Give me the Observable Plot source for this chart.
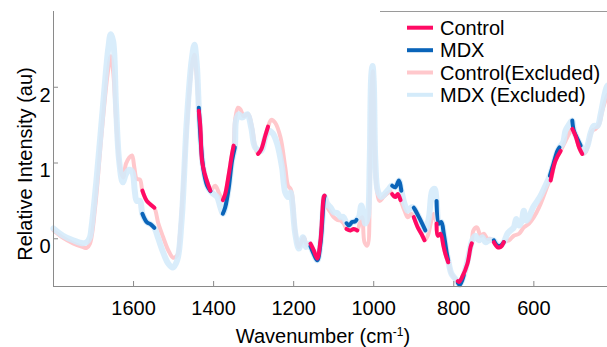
<!DOCTYPE html>
<html><head><meta charset="utf-8">
<script src="https://cdn.jsdelivr.net/npm/d3@7"></script>
<script src="https://cdn.jsdelivr.net/npm/@observablehq/plot@0.6"></script>
<style>
body{margin:0;background:#fff;}
#wrap{position:relative;width:607px;height:347px;font-family:"Liberation Sans",Arial,sans-serif;}
#overlay{position:absolute;left:0;top:0;pointer-events:none;}
</style></head><body><div id="wrap"></div>
<script>
// ---- data (wavenumber cm^-1, relative intensity au) ----
const controlWn = [1800,1776,1751,1726,1717,1709,1696,1680,1665,1657,1651,1642,1634,1626,1619,1611,1604,1598,1592,1584,1578,1567,1557,1548,1538,1526,1513,1501,1491,1484,1471,1455,1448,1443,1437,1433,1429,1422,1414,1408,1396,1387,1377,1371,1362,1354,1350,1346,1339,1333,1325,1314,1304,1296,1289,1281,1271,1264,1256,1246,1233,1221,1214,1208,1204,1196,1187,1175,1166,1158,1150,1141,1133,1125,1123,1116,1108,1100,1091,1083,1075,1068,1058,1050,1041,1033,1029,1023,1016,1010,1006,1002,998,993,985,976,966,958,954,946,940,933,923,915,906,900,890,881,873,865,856,850,843,840,833,826,821,814,806,796,790,787,779,766,758,755,751,742,733,725,716,708,700,691,683,675,662,650,637,625,612,600,587,575,562,558,546,533,521,508,504,496,487,479,471,462,454,446,437,429,419,416];
const controlVal = [0.11,0.013,-0.06,-0.11,-0.12,-0.065,0.415,1.38,2.17,2.41,2.21,1.42,0.94,0.81,0.99,1.07,1.10,0.94,0.79,0.78,0.635,0.50,0.45,0.41,0.20,0.02,-0.155,-0.25,-0.22,0.066,1.12,2.26,2.43,2.2,1.69,1.47,1.03,0.855,0.72,0.635,0.70,0.61,0.51,0.59,0.855,1.12,1.23,1.58,1.73,1.71,1.62,1.645,1.47,1.205,1.12,1.18,1.36,1.48,1.57,1.53,1.34,0.94,0.70,0.66,0.59,0.11,-0.11,0.02,-0.09,-0.065,-0.15,-0.26,-0.02,0.55,0.57,0.415,0.35,0.285,0.25,0.24,0.20,0.13,0.11,0.13,0.11,0.26,0.285,-0.045,-0.09,0.59,1.91,2.21,1.25,0.68,0.50,0.55,0.60,0.62,0.59,0.55,0.59,0.51,0.37,0.285,0.33,0.285,0.15,0.066,-0.02,0.04,0.24,0.33,0.20,0.04,0.066,-0.09,-0.20,-0.31,-0.46,-0.53,-0.56,-0.57,-0.505,-0.33,-0.11,-0.06,0.11,0.15,0.04,0.066,0,0,-0.045,-0.11,-0.11,-0.045,-0.02,0.04,0.066,0.15,0.20,0.285,0.415,0.57,0.745,0.77,1.03,1.16,1.29,1.425,1.45,1.36,1.205,1.12,1.14,1.29,1.425,1.45,1.51,1.69,1.86,1.9];

const mdxWn = [1800,1776,1751,1726,1717,1709,1705,1692,1676,1663,1657,1651,1644,1636,1627,1619,1611,1603,1597,1592,1584,1578,1567,1557,1548,1538,1526,1513,1502,1491,1480,1467,1455,1448,1442,1437,1431,1425,1416,1408,1400,1391,1383,1377,1371,1362,1354,1347,1344,1337,1329,1316,1306,1296,1281,1271,1262,1252,1241,1229,1221,1214,1208,1204,1196,1187,1177,1169,1161,1158,1150,1141,1133,1125,1123,1116,1108,1100,1091,1083,1076,1068,1062,1054,1046,1043,1037,1031,1026,1021,1015,1010,1006,1003,1000,996,990,981,973,962,956,954,946,937,931,923,915,906,900,898,887,879,871,862,854,848,843,837,831,825,818,814,806,796,790,785,775,766,758,754,746,737,729,721,712,700,691,683,675,666,658,650,644,637,631,625,619,612,602,591,581,571,560,551,541,536,527,521,512,504,500,491,483,475,466,458,450,441,433,425,419,416];
const mdxVal = [0.135,0.04,-0.02,-0.06,-0.045,0.02,0.15,0.81,1.78,2.52,2.70,2.61,1.78,1.03,0.745,0.855,0.91,0.88,0.635,0.50,0.50,0.33,0.22,0.19,0.145,0,-0.18,-0.33,-0.38,-0.285,0.24,1.56,2.35,2.56,2.3,1.73,1.2,0.90,0.70,0.63,0.59,0.55,0.415,0.33,0.415,0.68,1.03,1.205,1.56,1.645,1.60,1.645,1.47,1.205,1.16,1.34,1.425,1.39,1.25,0.94,0.61,0.55,0.61,0.50,0.066,-0.13,0.02,-0.11,-0.066,-0.1,-0.20,-0.285,-0.065,0.50,0.56,0.46,0.415,0.35,0.34,0.285,0.29,0.205,0.175,0.22,0.23,0.25,0.285,0.44,0.33,0.20,0.285,1.03,2.17,2.28,2.08,1.03,0.635,0.55,0.59,0.66,0.70,0.70,0.68,0.77,0.635,0.46,0.37,0.415,0.41,0.395,0.285,0.20,0.11,0.285,0.635,0.66,0.50,0.20,0.22,0.066,-0.175,-0.285,-0.46,-0.53,-0.58,-0.61,-0.48,-0.30,-0.10,-0.02,0.04,-0.02,0.02,-0.045,-0.02,-0.02,-0.09,-0.09,-0.045,0.066,0.11,0.15,0.26,0.175,0.22,0.37,0.24,0.285,0.415,0.50,0.59,0.70,0.83,0.99,1.16,1.205,1.27,1.425,1.51,1.56,1.425,1.315,1.23,1.14,1.23,1.40,1.49,1.49,1.645,1.86,1.99,2.02];

// significant (non-excluded) wavenumber ranges
const controlSig = [[1578,1548],[1437,1408],[1377,1350],[1289,1264],[1158,1123],[1068,1041],[954,933],[900,873],[843,814],[790,755],[700,675],[558,533],[504,479]];
const mdxSig = [[1578,1548],[1437,1408],[1377,1347],[1158,1123],[1068,1043],[954,931],[900,871],[843,814],[790,775],[700,675],[560,536],[504,483]];

const xTicks = [1600,1400,1200,1000,800,600];
const yTicks = [0,1,2];
const xDomain = [1800,416];
const yDomain = [-0.63,3.0];

const seriesNames = ["Control","MDX","Control(Excluded)","MDX (Excluded)"];
const seriesColors = ["#ff0a64","#0a64b9","#ffc8cc","#d4ebfa"];

// ---- build rows ----
const controlRows = controlWn.map((wn,i)=>({wn, v: controlVal[i]}));
const mdxRows = mdxWn.map((wn,i)=>({wn, v: mdxVal[i]}));
function segRows(rows, ranges){
  const out=[];
  ranges.forEach(([hi,lo],k)=>{
    rows.forEach(r=>{ if(r.wn<=hi && r.wn>=lo) out.push({...r, seg:k}); });
  });
  return out;
}
const controlSigRows = segRows(controlRows, controlSig);
const mdxSigRows = segRows(mdxRows, mdxSig);

const axisColor = "#8a8a8a";
const font = '"Liberation Sans", Arial, sans-serif';
const yTickLen = (yDomain[1]-yDomain[0]) * 5/275;
const xTickLen = (xDomain[0]-xDomain[1]) * 5/554;

const chart = Plot.plot({
  width: 607, height: 347,
  marginLeft: 53, marginRight: 0, marginTop: 11, marginBottom: 61,
  style: {fontFamily: font, fontSize: "20px", color: "#000", background: "#fff", overflow: "visible"},
  x: {domain: xDomain, label: null},
  y: {domain: yDomain, label: null},
  marks: [
    Plot.line(controlRows, {x:"wn", y:"v", stroke: seriesColors[2], strokeWidth: 4, curve: "catmull-rom"}),
    Plot.line(mdxRows, {x:"wn", y:"v", stroke: seriesColors[3], strokeWidth: 6, strokeOpacity: 0.88, curve: "catmull-rom"}),
    Plot.line(mdxSigRows, {x:"wn", y:"v", z:"seg", stroke: seriesColors[1], strokeWidth: 4, curve: "catmull-rom"}),
    Plot.line(controlSigRows, {x:"wn", y:"v", z:"seg", stroke: seriesColors[0], strokeWidth: 4, curve: "catmull-rom"}),
    Plot.ruleX([xDomain[0]], {stroke: axisColor}),
    Plot.ruleY([yDomain[0]], {stroke: axisColor}),
    Plot.ruleX(xTicks, {x: d=>d, y1: yDomain[0], y2: yDomain[0]+yTickLen, stroke: axisColor}),
    Plot.ruleY(yTicks, {y: d=>d, x1: xDomain[0], x2: xDomain[0]-xTickLen, stroke: axisColor}),
    Plot.axisX({ticks: xTicks, tickFormat: d=>String(d), tickSize: 0, tickPadding: 14, fontSize: 20, label: null}),
    Plot.axisY({ticks: yTicks, tickFormat: d=>String(d), tickSize: 0, tickPadding: 3, dy: 8, fontSize: 20, label: null})
  ]
});
const wrap = document.getElementById("wrap");
wrap.appendChild(chart);

// ---- overlay: axis titles and legend ----
const ns = "http://www.w3.org/2000/svg";
const ov = document.createElementNS(ns,"svg");
ov.setAttribute("id","overlay"); ov.setAttribute("width",607); ov.setAttribute("height",347);
ov.style.fontFamily = font;
let html = `<text x="323" y="342.7" text-anchor="middle" font-size="20">Wavenumber (cm<tspan dy="-7" font-size="12">-1</tspan><tspan dy="7">)</tspan></text>`;
html += `<text transform="translate(32,164) rotate(-90)" text-anchor="middle" font-size="20">Relative Intensity (au)</text>`;
html += `<line x1="380" x2="607" y1="11.5" y2="11.5" stroke="#9a9a9a" stroke-width="1"/>`;
const baselines = [34.7,57.2,79.5,101.8];
seriesNames.forEach((name,i)=>{
  const b = baselines[i];
  html += `<line x1="407" x2="433" y1="${b-7}" y2="${b-7}" stroke="${seriesColors[i]}" stroke-width="4"/>`;
  html += `<text x="440" y="${b}" font-size="20">${name}</text>`;
});
ov.innerHTML = html;
wrap.appendChild(ov);
</script></body></html>
